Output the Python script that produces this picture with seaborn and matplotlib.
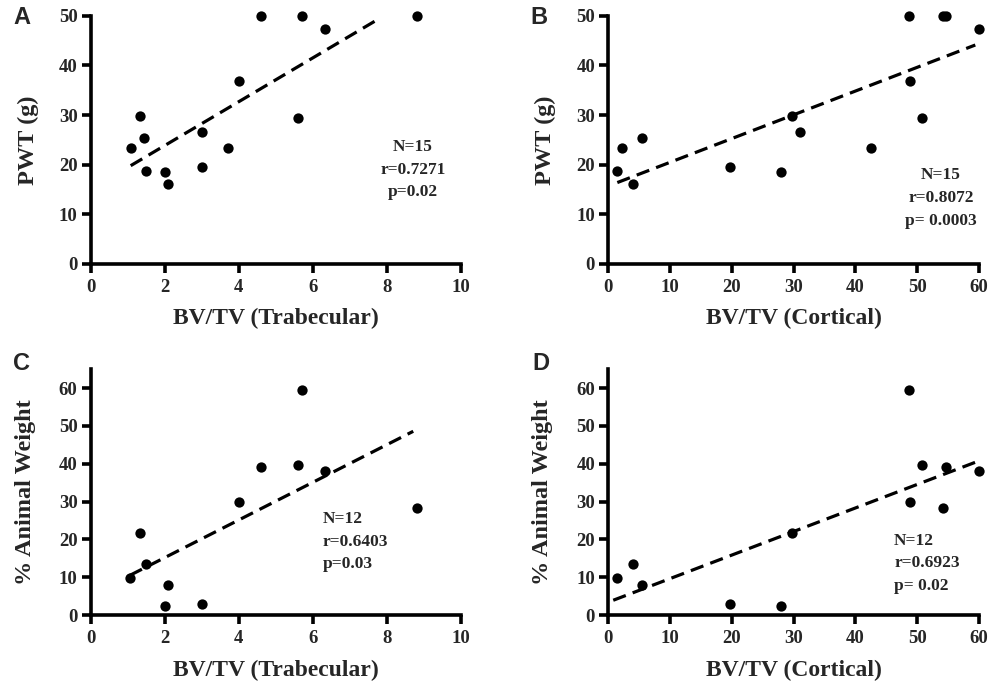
import numpy as np
import pandas as pd
import matplotlib
matplotlib.use("Agg")
import matplotlib.pyplot as plt
import seaborn as sns

sns.set_theme(style="ticks")
plt.rcParams['font.family'] = ['Liberation Serif', 'DejaVu Serif']

# ---- Data ----
# Panel A: PWT vs trabecular BV/TV
a_x = [1.08, 1.33, 1.44, 1.48, 2.0, 2.10, 3.0, 3.0, 3.71, 4.0, 4.6, 5.6, 5.7, 6.33, 8.8]
a_y = [23.4, 29.8, 25.3, 18.7, 18.5, 16.1, 26.5, 19.5, 23.4, 36.9, 50.0, 29.3, 50.0, 47.4, 50.0]
a_fit_x = [1.08, 7.81]
a_fit_y = [19.8, 49.5]

# Panel B: PWT vs cortical BV/TV
b_x = [1.46, 2.2, 3.94, 5.5, 19.7, 27.9, 29.8, 31.0, 42.5, 48.6, 48.8, 50.8, 54.2, 54.6, 60.0]
b_y = [18.7, 23.4, 16.1, 25.3, 19.5, 18.5, 29.8, 26.5, 23.4, 50.0, 36.9, 29.3, 50.0, 50.0, 47.4]
b_fit_x = [1.46, 59.4]
b_fit_y = [16.4, 44.1]

# Panel C: % animal weight vs trabecular BV/TV
c_x = [1.06, 1.33, 1.48, 2.0, 2.10, 3.0, 4.0, 4.6, 5.6, 5.7, 6.33, 8.8]
c_y = [9.8, 21.6, 13.6, 2.45, 8.06, 2.8, 29.8, 39.1, 39.7, 59.6, 38.1, 28.2]
c_fit_x = [1.06, 8.71]
c_fit_y = [10.5, 48.6]

# Panel D: % animal weight vs cortical BV/TV
d_x = [1.46, 4.0, 5.5, 19.7, 27.9, 29.8, 48.6, 48.8, 50.8, 54.6, 54.2, 60.0]
d_y = [9.8, 13.6, 8.06, 2.8, 2.45, 21.6, 59.6, 29.8, 39.7, 39.1, 28.2, 38.1]
d_fit_x = [0.8, 59.4]
d_fit_y = [3.9, 40.4]

panel_letters = ["A", "B", "C", "D"]
x_labels = ["BV/TV (Trabecular)", "BV/TV (Cortical)", "BV/TV (Trabecular)", "BV/TV (Cortical)"]
y_labels = ["PWT (g)", "PWT (g)", "% Animal Weight", "% Animal Weight"]
stats_texts = ["N=15\nr=0.7271\np=0.02",
               "N=15\nr=0.8072\np= 0.0003",
               "N=12\nr=0.6403\np=0.03",
               "N=12\nr=0.6923\np= 0.02"]
x_ticks_trab = [0, 2, 4, 6, 8, 10]
x_ticks_cort = [0, 10, 20, 30, 40, 50, 60]
y_ticks_pwt = [0, 10, 20, 30, 40, 50]
y_ticks_pct = [0, 10, 20, 30, 40, 50, 60]

# ---- Layout ----
W, H = 1003, 682
fig = plt.figure(figsize=(W / 100, H / 100), dpi=100)

def px_axes(left, top, right, bottom):
    return fig.add_axes([left / W, (H - bottom) / H, (right - left) / W, (bottom - top) / H])

axes = [
    px_axes(90.7, 15.7, 461.0, 264.0),
    px_axes(608.3, 15.7, 979.0, 264.0),
    px_axes(90.7, 369.3, 461.0, 615.0),
    px_axes(608.3, 369.3, 979.0, 615.0),
]

panels = [
    (a_x, a_y, a_fit_x, a_fit_y, (0, 10), x_ticks_trab, (0, 50), y_ticks_pwt),
    (b_x, b_y, b_fit_x, b_fit_y, (0, 60), x_ticks_cort, (0, 50), y_ticks_pwt),
    (c_x, c_y, c_fit_x, c_fit_y, (0, 10), x_ticks_trab, (0, 65), y_ticks_pct),
    (d_x, d_y, d_fit_x, d_fit_y, (0, 60), x_ticks_cort, (0, 65), y_ticks_pct),
]

# stats text placement (axes fraction), alignment
stats_pos = [(0.870, 0.379, "center"), (0.897, 0.266, "center"),
             (0.627, 0.298, "left"), (0.771, 0.210, "left")]
letter_pos = [(22, 18), (539, 18), (21, 364), (541, 364)]
ylabel_x = [-0.169, -0.169, -0.177, -0.177]
xlabel_y = [-0.221, -0.221, -0.224, -0.224]

for i, ax in enumerate(axes):
    xs, ys, fx, fy, xlim, xt, ylim, yt = panels[i]
    df = pd.DataFrame({"x": xs, "y": ys})
    sns.scatterplot(data=df, x="x", y="y", ax=ax, color="black", s=55,
                    edgecolor="black", linewidth=0, clip_on=False, zorder=3)
    fit = pd.DataFrame({"x": fx, "y": fy})
    sns.lineplot(data=fit, x="x", y="y", ax=ax, color="black", lw=2.3,
                 linestyle=(0, (4.2, 2.3)), clip_on=False, zorder=2)
    ax.set_xlim(*xlim)
    ax.set_ylim(*ylim)
    ax.set_xticks(xt)
    ax.set_yticks(yt)
    for s in ["top", "right"]:
        ax.spines[s].set_visible(False)
    for s in ["left", "bottom"]:
        ax.spines[s].set_linewidth(2.6)
        ax.spines[s].set_color("black")
    ax.tick_params(axis="x", direction="out", length=6.5, width=2.6, color="black",
                   labelsize=13.5, pad=4)
    ax.tick_params(axis="y", direction="out", length=6.5, width=2.6, color="black",
                   labelsize=13.5, pad=3)
    for lab in ax.get_xticklabels() + ax.get_yticklabels():
        lab.set_fontweight("bold")
    ax.set_xlabel(x_labels[i], fontsize=17, fontweight="bold", va="center")
    ax.xaxis.set_label_coords(0.5, xlabel_y[i])
    ax.set_ylabel(y_labels[i], fontsize=17.5, fontweight="bold", va="center")
    ax.yaxis.set_label_coords(ylabel_x[i], 0.5)
    sx, sy, ha = stats_pos[i]
    ax.text(sx, sy, stats_texts[i], transform=ax.transAxes, ha=ha, va="center",
            fontsize=12.5, fontweight="bold", linespacing=1.55)
    ax.set_facecolor("white")
    lx, ly = letter_pos[i]
    fig.text(lx / W, 1 - ly / H, panel_letters[i], ha="center", va="center",
             fontsize=17, fontweight="bold", family=["Liberation Sans", "DejaVu Sans"])

fig.savefig("out.png", dpi=100, facecolor="white")
